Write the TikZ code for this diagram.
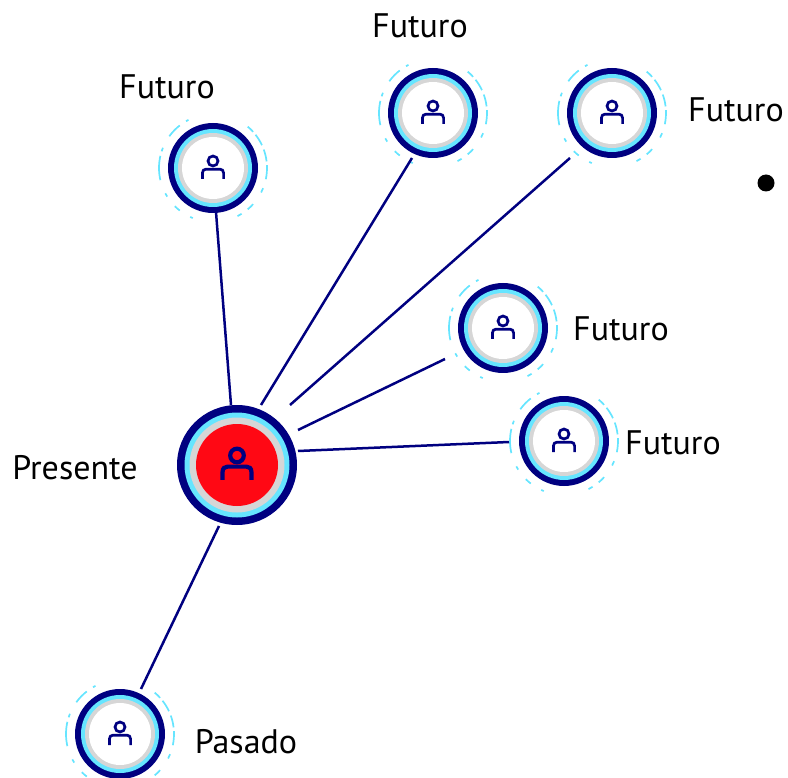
\documentclass[tikz,border=0pt]{standalone}
\usepackage{fontspec}
\setmainfont{PT Sans}
\definecolor{ringnavy}{RGB}{0,0,128}
\definecolor{ringcyan}{RGB}{102,229,255}
\definecolor{ringgray}{RGB}{214,214,214}
\definecolor{corered}{RGB}{255,8,20}
\tikzset{
  x=1pt,y=-1pt,
  hub/.style={circle,inner sep=0pt,minimum size=90pt,fill=ringnavy},
  mainhub/.style={circle,inner sep=0pt,minimum size=120pt,fill=ringnavy},
  tie/.style={draw=ringnavy,line width=2.5pt},
  lbl/.style={font=\fontsize{34}{36}\selectfont,text=black,inner sep=0pt},
  pics/personicon/.style={code={
    \draw[ringnavy,line width=#1] (0,-7) circle[radius=5];
    \draw[ringnavy,line width=#1] (-10.6,11) -- (-10.6,5) .. controls (-10.6,2.5) and (-9,1.2) .. (-7,1.2) -- (7,1.2) .. controls (9,1.2) and (10.6,2.5) .. (10.6,5) -- (10.6,11);
  }},
  pics/smallring/.style={code={
    \fill[ringcyan] (0,0) circle[radius=39];
    \fill[ringgray] (0,0) circle[radius=35];
    \fill[white] (0,0) circle[radius=31];
    \foreach \a/\b in {-50/-42,-38/-25,-20/-7,-3/12,22/27,42/50,58/63,112/115,128/135,148/152,167/193,198/202,216/232,240/243}
      \draw[ringcyan,line width=1.7pt] (\a:54) arc[start angle=\a,end angle=\b,radius=54];
    \pic {personicon=2.7pt};
  }},
  pics/mainring/.style={code={
    \fill[ringcyan] (0,0) circle[radius=52.5];
    \fill[ringgray] (0,0) circle[radius=47.5];
    \fill[corered] (0,0) circle[radius=41];
    \pic[scale=1.36] {personicon=4.2pt};
  }}
}
\begin{document}
\begin{tikzpicture}
\useasboundingbox (0,0) rectangle (788,778);
\node[mainhub] (main) at (237,465) {};
\node[hub] (n1) at (213,168) {};
\node[hub] (n2) at (433,113) {};
\node[hub] (n3) at (612,113) {};
\node[hub] (n4) at (503,328) {};
\node[hub] (n5) at (564,441) {};
\node[hub] (n6) at (120,734) {};
\pic at (main) {mainring};
\foreach \n in {n1,n2,n3,n4,n5,n6} \pic at (\n) {smallring};
\draw[tie] ([shift={(-6,-60)}]main.center) -- ([shift={(3,44)}]n1.center);
\draw[tie] ([shift={(24,-60)}]main.center) -- ([shift={(-21,45)}]n2.center);
\draw[tie] ([shift={(53,-60)}]main.center) -- ([shift={(-42,45)}]n3.center);
\draw[tie] ([shift={(61,-35)}]main.center) -- ([shift={(-58,31)}]n4.center);
\draw[tie] ([shift={(61,-14)}]main.center) -- ([shift={(-55,1)}]n5.center);
\draw[tie] ([shift={(-18,61)}]main.center) -- ([shift={(21,-45)}]n6.center);
\node[circle,fill=black,inner sep=0pt,minimum size=17pt] (dot) at (766,183) {};
\node[lbl] (l1) at (167,87) {Futuro};
\node[lbl] (l2) at (420,26) {Futuro};
\node[lbl] (l3) at (736,110) {Futuro};
\node[lbl] (l4) at (621,329) {Futuro};
\node[lbl] (l5) at (673,443) {Futuro};
\node[lbl] (l6) at (75,468) {Presente};
\node[lbl] (l7) at (246,742) {Pasado};
\end{tikzpicture}
\end{document}
